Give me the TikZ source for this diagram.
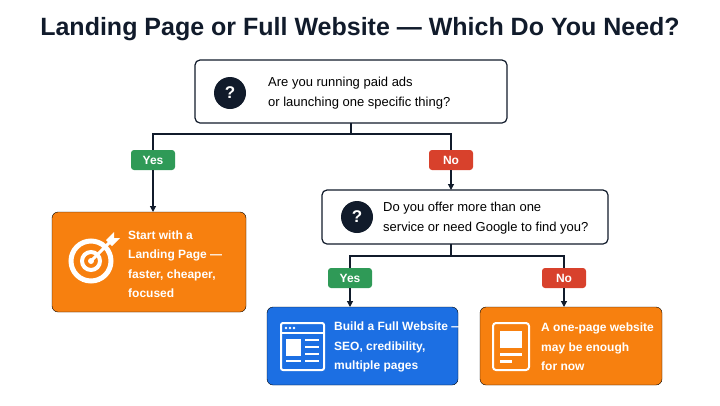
\documentclass[tikz,border=0pt]{standalone}
\usepackage{fontspec}
\setmainfont{Liberation Sans}
\usetikzlibrary{positioning,arrows.meta}
\definecolor{navy}{HTML}{111B2B}
\definecolor{flowOrange}{HTML}{F7800F}
\definecolor{flowBlue}{HTML}{1C6FE3}
\definecolor{yesGreen}{HTML}{2F9A57}
\definecolor{noRed}{HTML}{D8412C}
\tikzset{
  question/.style={draw=navy, line width=1.2pt, rounded corners=5pt, fill=white},
  answer/.style={rounded corners=6pt},
  badge/.style={rounded corners=3pt, text=white, font=\bfseries\fontsize{12}{12}\selectfont,
    minimum width=44pt, minimum height=20pt, inner sep=0pt},
  boxtext/.style={anchor=west, align=left, font=\fontsize{13}{20}\selectfont, inner sep=0pt},
  whitetext/.style={boxtext, text=white, font=\bfseries\fontsize{12}{19.5}\selectfont},
  link/.style={navy, line width=1.2pt},
  flow/.style={link, -{Triangle[length=6pt,width=6pt]}}
}
\begin{document}
\begin{tikzpicture}[x=1pt,y=-1pt]
    \useasboundingbox (0,0) rectangle (720,405);
    \node[font=\bfseries\fontsize{25}{25}\selectfont, text=navy] (title) at (360,29) {Landing Page or Full Website — Which Do You Need?};
    % first question
    \draw[question] (195,60) rectangle (507,123);
    \fill[navy] (230,93) circle (16);
    \node[text=white, font=\bfseries\fontsize{17}{17}\selectfont] (qmark1) at (230,93) {?};
    \node[boxtext] (q1) at (268,93) {Are you running paid ads\\or launching one specific thing?};
    \coordinate (q1out) at (351,123);
    \coordinate (split1) at (351,134);
    \node[badge, fill=yesGreen] (yes1) at (153,160) {Yes};
    \node[badge, fill=noRed] (no1) at (451,160) {No};
    \draw[link] (q1out) -- (split1);
    \draw[link] (yes1.north) |- (split1) -| (no1.north);
    % landing page
    \draw[answer, fill=flowOrange] (52,212) rectangle (246,312);
    \coordinate (lp) at (153,212);
    \draw[flow] (yes1.south) -- (lp);
    \draw[white, line width=5pt] (91,261) circle (20);
    \draw[white, line width=4pt] (91,261) circle (9);
    \fill[white] (91,261) circle (3);
    \draw[white, line width=3pt] (91,261) -- (110,242);
    \fill[white] (106,240) -- (114,232) -- (114,238) -- (120,238) -- (112,246) -- cycle;
    \node[whitetext] (lptext) at (128,264) {Start with a\\Landing Page —\\faster, cheaper,\\focused};
    % second question
    \coordinate (q2in) at (451,190);
    \draw[flow] (no1.south) -- (q2in);
    \draw[question] (322,190) rectangle (608,244);
    \fill[navy] (357,217) circle (16);
    \node[text=white, font=\bfseries\fontsize{17}{17}\selectfont] (qmark2) at (357,217) {?};
    \node[boxtext] (q2) at (383,218) {Do you offer more than one\\service or need Google to find you?};
    \coordinate (q2out) at (451,244);
    \coordinate (split2) at (451,256);
    \node[badge, fill=yesGreen] (yes2) at (350,278) {Yes};
    \node[badge, fill=noRed] (no2) at (564,278) {No};
    \draw[link] (q2out) -- (split2);
    \draw[link] (yes2.north) |- (split2) -| (no2.north);
    % full website
    \draw[answer, fill=flowBlue] (267,307) rectangle (458,385);
    \coordinate (fw) at (350,307);
    \draw[flow] (yes2.south) -- (fw);
    \draw[white, line width=2pt, rounded corners=2pt] (281,323) rectangle (324,370);
    \draw[white, line width=2pt] (281,333) -- (324,333);
    \foreach \dx in {0,4,8} \fill[white] (286+\dx,328) circle (1.3);
    \fill[white] (286,339) rectangle (301,356);
    \foreach \dy in {340,347,354} \fill[white] (305,\dy-1.3) rectangle (319,\dy+1.3);
    \foreach \dy in {361} {\fill[white] (286,\dy-1.3) rectangle (301,\dy+1.3);
      \fill[white] (305,\dy-1.3) rectangle (319,\dy+1.3);}
    \node[whitetext] (fwtext) at (334,347) {Build a Full Website —\\SEO, credibility,\\multiple pages};
    % one page
    \draw[answer, fill=flowOrange] (480,307) rectangle (662,385);
    \coordinate (op) at (564,307);
    \draw[flow] (no2.south) -- (op);
    \draw[white, line width=2pt, rounded corners=3pt] (493,323) rectangle (529,370);
    \fill[white] (500,331) rectangle (522,348);
    \fill[white] (500,353) rectangle (522,355.5);
    \fill[white] (500,360) rectangle (512,362.5);
    \node[whitetext] (optext) at (541,347) {A one-page website\\may be enough\\for now};
\end{tikzpicture}
\end{document}
